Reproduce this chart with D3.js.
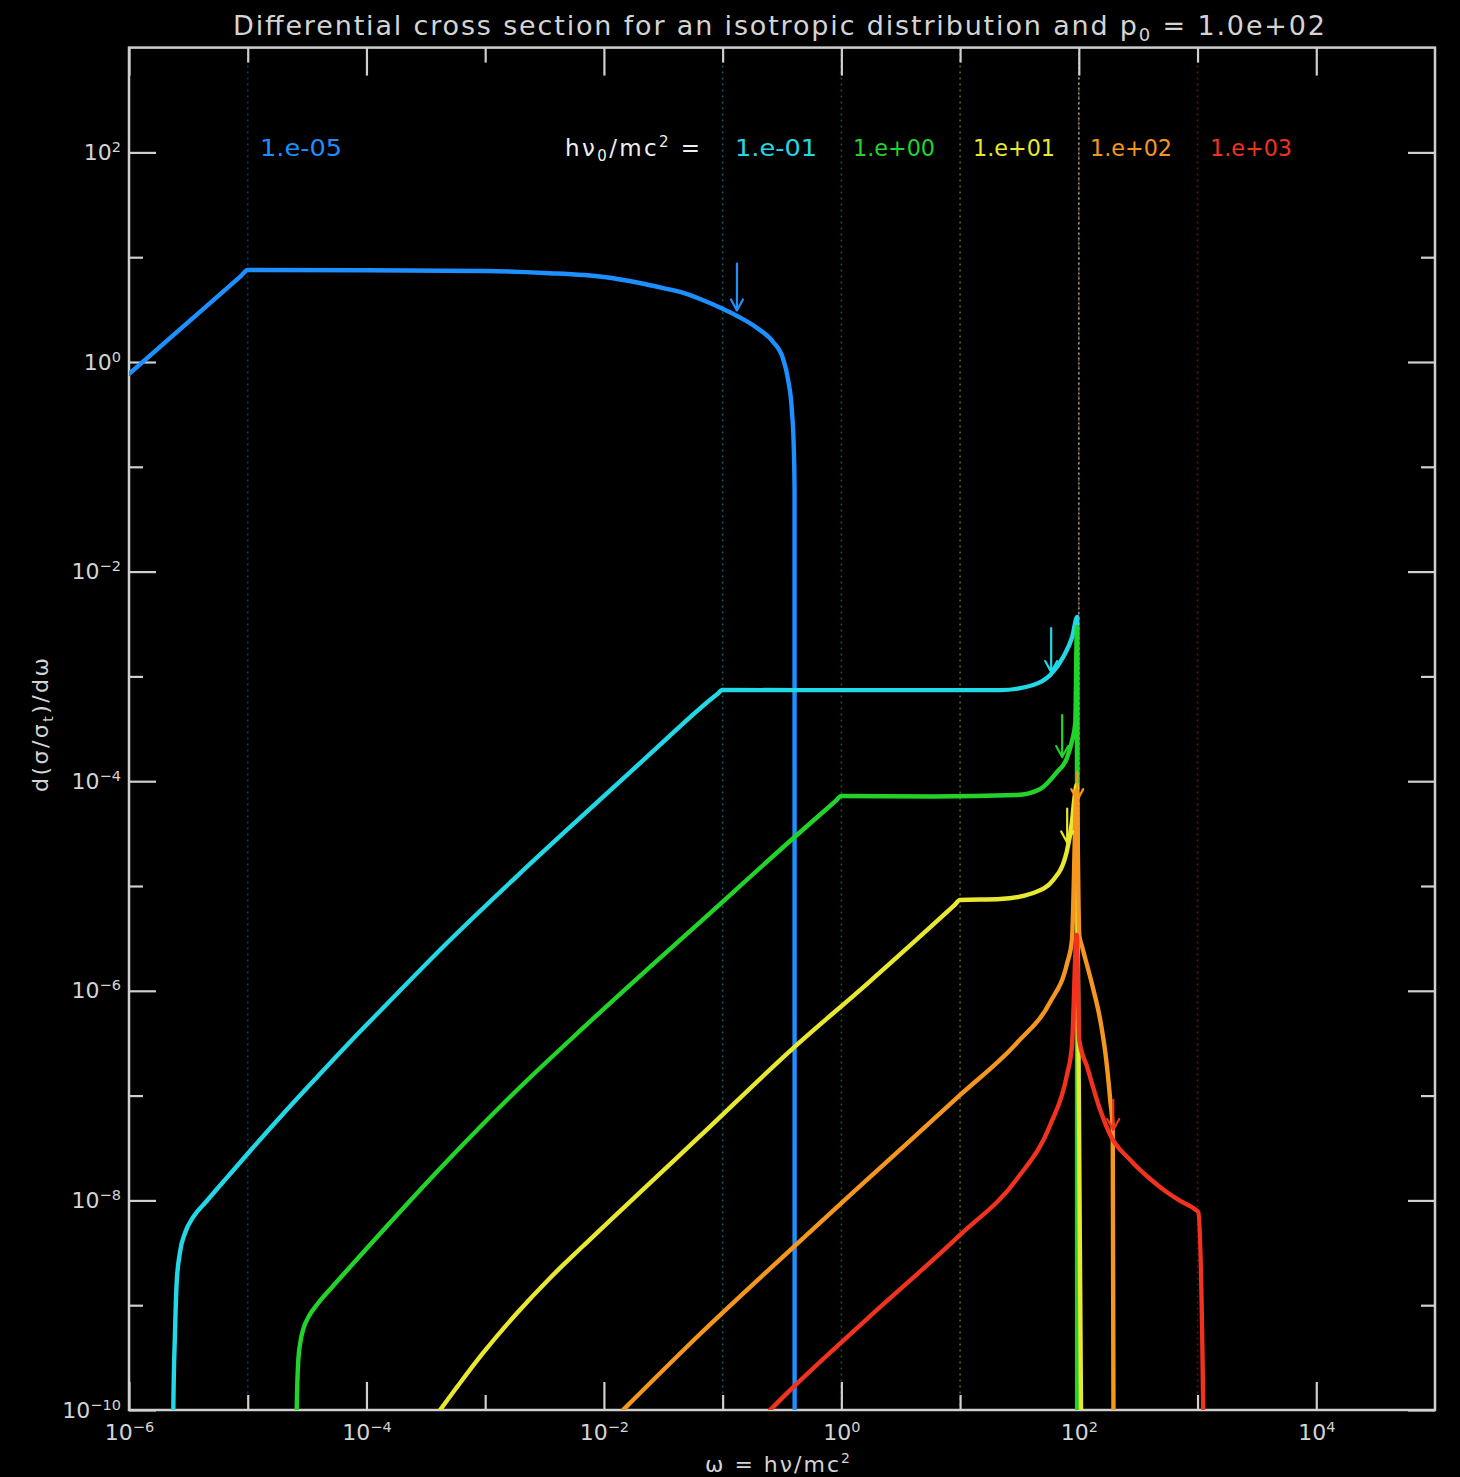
<!DOCTYPE html>
<html>
<head>
<meta charset="utf-8">
<script src="https://cdn.jsdelivr.net/npm/d3@7"></script>
<style>
  html, body { margin: 0; padding: 0; background: #000; }
  svg { display: block; }
  text { font-family: "DejaVu Sans", "Liberation Sans", sans-serif; }
</style>
</head>
<body>
<svg id="chart" width="1460" height="1477"></svg>
<script>
// ---------------------------------------------------------------------------
// Compton spectrum of an isotropic photon field scattered by electrons, p0 = 100
// ---------------------------------------------------------------------------

// incident photon energies hν0/mc² (one curve each)
const eps0Values = [1e-5, 1e-1, 1e0, 1e1, 1e2, 1e3];
const eps0Labels = ["1.e-05", "1.e-01", "1.e+00", "1.e+01", "1.e+02", "1.e+03"];
const electronMomentum = 100;   // p0

// axis ticks (decades)
const xMajorTicks = [1e-6, 1e-4, 1e-2, 1e0, 1e2, 1e4];
const xMinorTicks = [1e-5, 1e-3, 1e-1, 1e1, 1e3];
const yMajorTicks = [1e-10, 1e-8, 1e-6, 1e-4, 1e-2, 1e0, 1e2];
const yMinorTicks = [1e-9, 1e-7, 1e-5, 1e-3, 1e-1, 1e1];

// d(σ/σT)/dω versus ω = hν/mc², one array per incident energy
const spectrum_1em05 = [
  [1.0e-6, 0.77], [0.88e-5, 6.64], [1.0e-5, 7.55], [1.0e-4, 7.5], [1.0e-3, 7.38],
  [3.16e-3, 7.07], [1.0e-2, 6.47], [2.0e-2, 5.67], [3.16e-2, 5.08], [0.0439, 4.66],
  [0.0646, 3.99], [0.101, 3.20], [0.1325, 2.75], [0.1953, 2.11], [0.2663, 1.552],
  [0.3234, 1.068], [0.3562, 0.673], [0.3828, 0.348], [0.398, 0.1446], [0.4034, 0.0601],
  [0.4041, 1e-11]
];
const spectrum_1em01 = [
  [2.349e-6, 5.2e-11], [2.362e-6, 1e-10], [2.44e-6, 5.43e-10], [2.52e-6, 1.63e-9],
  [2.69e-6, 3.22e-9], [2.964e-6, 4.89e-9], [3.48e-6, 6.95e-9], [4.514e-6, 9.87e-9],
  [6.65e-6, 1.64e-8], [1.046e-5, 2.96e-8], [1.983e-5, 6.67e-8], [3.836e-5, 1.50e-7],
  [7.27e-5, 3.25e-7], [1.379e-4, 6.85e-7], [5.06e-4, 3.05e-6], [1.857e-3, 1.245e-5],
  [6.68e-3, 4.75e-5], [2.45e-2, 1.82e-4], [8.93e-2, 6.72e-4], [0.1, 7.41e-4],
  [0.457, 7.4e-4], [3.13, 7.4e-4], [21.8, 7.4e-4], [41.3, 8.28e-4], [57.4, 1.03e-3],
  [73.9, 1.53e-3], [88.0, 2.38e-3], [97.0, 3.69e-3], [97.5, 1e-11]
];
const spectrum_1ep00 = [
  [2.576e-5, 5.2e-11], [2.586e-5, 1e-10], [2.668e-5, 3.0e-10], [2.785e-5, 4.55e-10],
  [2.939e-5, 5.93e-10], [3.283e-5, 7.89e-10], [3.814e-5, 1.005e-9], [5.23e-5, 1.525e-9],
  [7.27e-5, 2.31e-9], [1.389e-4, 5.22e-9], [5.06e-4, 2.54e-8], [1.857e-3, 1.13e-7],
  [6.68e-3, 4.42e-7], [2.45e-2, 1.69e-6], [6.46e-2, 4.53e-6], [0.395, 2.87e-5],
  [0.887, 6.41e-5], [1.0, 7.22e-5], [5.93, 7.15e-5], [30.1, 7.38e-5], [47.3, 8.43e-5],
  [65.4, 1.22e-4], [79.4, 1.66e-4], [88.0, 2.47e-4], [93.3, 3.59e-4], [96.4, 2.96e-3],
  [96.9, 1e-11]
];
const spectrum_1ep01 = [
  [4.17e-4, 1e-10], [6.14e-4, 1.81e-10], [9.60e-4, 3.50e-10],
  [1.857e-3, 8.43e-10], [3.52e-3, 1.82e-9], [6.68e-3, 3.67e-9], [2.45e-2, 1.47e-8],
  [6.46e-2, 4.12e-8], [0.393, 2.84e-7], [1.64, 1.16e-6], [8.92, 6.53e-6], [10.0, 7.35e-6],
  [21.8, 7.51e-6], [41.3, 8.57e-6], [60.8, 1.14e-5], [79.4, 2.16e-5], [87.5, 4.08e-5],
  [91.5, 6.62e-5], [96.0, 9.2e-5], [105.8, 1e-11]
];
const spectrum_1ep02 = [
  [1.451e-2, 1e-10], [6.46e-2, 5.31e-10], [0.395, 3.59e-9], [1.64, 1.57e-8],
  [10.02, 1.014e-7], [30.1, 3.18e-7], [57.4, 7.82e-7], [79.4, 1.80e-6], [87.5, 3.05e-6],
  [96.0, 8.24e-5], [100.8, 3.41e-6], [106.8, 2.62e-6], [129.7, 1.135e-6],
  [151.5, 5.26e-7], [170.2, 2.19e-7], [183.9, 9.08e-8], [193.1, 4.70e-8], [196.8, 1e-11]
];
const spectrum_1ep03 = [
  [0.2512, 1e-10], [0.395, 1.66e-10], [1.64, 7.38e-10], [10.0, 4.68e-9],
  [30.1, 1.60e-8], [57.4, 5.24e-8], [79.4, 1.57e-7], [87.5, 2.97e-7], [96.0, 3.41e-6],
  [100.8, 3.40e-7], [117.7, 1.87e-7], [151.5, 7.29e-8], [183.9, 4.21e-8], [271, 2.43e-8],
  [399.5, 1.60e-8], [534.6, 1.23e-8], [715, 9.87e-9], [956.4, 8.19e-9], [1014, 7.74e-9],
  [1117, 1e-10], [1139, 1e-11]
];
const spectra = [spectrum_1em05, spectrum_1em01, spectrum_1ep00,
                 spectrum_1ep01, spectrum_1ep02, spectrum_1ep03];

// markers (arrows) on each curve: energy and the value at the arrow tip
const markerOmega = [0.132, 58.5, 72.4, 79.8, 97.0, 195];
const markerValue = [3.1, 1.1e-3, 1.7e-4, 2.6e-5, 6.6e-5, 4.7e-8];

// ---------------------------------------------------------------------------
// styling / layout
// ---------------------------------------------------------------------------
const seriesColors = ["#1e8fff", "#22d8e6", "#22d42a", "#e8e830", "#f5961e", "#f0321e"];
const markerLengths = [47, 44, 42, 34, 28, 30];
const legendX = [260, 735, 853, 973, 1090, 1210];
const axisColor = "#cfcfcf";
const textColor = "#d4d4d4";

const W = 1460, H = 1477;
const plot = { left: 129, right: 1435, top: 47.6, bottom: 1410 };

const x = d3.scaleLog().domain([1e-6, 1e5]).range([plot.left, plot.right]);
const y = d3.scaleLog().domain([1e-10, 1e3]).range([plot.bottom, plot.top]);

const svg = d3.select("#chart");
svg.append("rect").attr("width", W).attr("height", H).attr("fill", "#000");

svg.append("defs").append("clipPath").attr("id", "plot-clip")
  .append("rect")
  .attr("x", plot.left).attr("y", plot.top)
  .attr("width", plot.right - plot.left).attr("height", plot.bottom - plot.top);

// ---------------------------------------------------------------------------
// dotted guide lines at each incident energy and at p0
// ---------------------------------------------------------------------------
const guides = svg.append("g").attr("clip-path", "url(#plot-clip)");
guides.selectAll("line.eps")
  .data(eps0Values)
  .join("line")
  .attr("class", "eps")
  .attr("x1", d => x(d)).attr("x2", d => x(d))
  .attr("y1", plot.top).attr("y2", plot.bottom)
  .attr("stroke", (d, i) => seriesColors[i])
  .attr("stroke-opacity", 0.42)
  .attr("stroke-width", 1.6)
  .attr("stroke-dasharray", "2,4");
guides.append("line")
  .attr("x1", x(electronMomentum)).attr("x2", x(electronMomentum))
  .attr("y1", plot.top).attr("y2", plot.bottom)
  .attr("stroke", "#b8b8b8")
  .attr("stroke-opacity", 0.8)
  .attr("stroke-width", 1.6)
  .attr("stroke-dasharray", "2,3");

// ---------------------------------------------------------------------------
// axes
// ---------------------------------------------------------------------------
function powerLabels(g) {
  g.selectAll(".tick text").each(function (d) {
    const t = d3.select(this);
    const e = Math.round(Math.log10(d));
    t.text(null);
    t.append("tspan").text("10");
    t.append("tspan").attr("dy", "-0.55em").attr("font-size", "0.66em")
      .text(e < 0 ? "\u2212" + (-e) : String(e));
  });
}
function axisStyle(g) {
  g.attr("color", axisColor).attr("font-size", 22)
    .attr("font-family", "'DejaVu Sans', sans-serif");
  g.select(".domain").remove();
  g.selectAll(".tick line").attr("stroke-width", 2.2);
  g.selectAll(".tick text").attr("fill", textColor);
}

// bottom
svg.append("g").attr("transform", `translate(0,${plot.bottom})`)
  .call(d3.axisBottom(x).tickValues(xMajorTicks).tickSize(-28).tickPadding(14))
  .call(axisStyle).call(powerLabels);
svg.append("g").attr("transform", `translate(0,${plot.bottom})`)
  .call(d3.axisBottom(x).tickValues(xMinorTicks).tickSize(-15).tickFormat(""))
  .call(axisStyle);
// top
svg.append("g").attr("transform", `translate(0,${plot.top})`)
  .call(d3.axisTop(x).tickValues(xMajorTicks).tickSize(-28).tickFormat(""))
  .call(axisStyle);
svg.append("g").attr("transform", `translate(0,${plot.top})`)
  .call(d3.axisTop(x).tickValues(xMinorTicks).tickSize(-15).tickFormat(""))
  .call(axisStyle);
// left
svg.append("g").attr("transform", `translate(${plot.left},0)`)
  .call(d3.axisLeft(y).tickValues(yMajorTicks).tickSize(-27).tickPadding(8))
  .call(axisStyle).call(powerLabels);
svg.append("g").attr("transform", `translate(${plot.left},0)`)
  .call(d3.axisLeft(y).tickValues(yMinorTicks).tickSize(-14).tickFormat(""))
  .call(axisStyle);
// right
svg.append("g").attr("transform", `translate(${plot.right},0)`)
  .call(d3.axisRight(y).tickValues(yMajorTicks).tickSize(-27).tickFormat(""))
  .call(axisStyle);
svg.append("g").attr("transform", `translate(${plot.right},0)`)
  .call(d3.axisRight(y).tickValues(yMinorTicks).tickSize(-14).tickFormat(""))
  .call(axisStyle);

// frame
svg.append("rect")
  .attr("x", plot.left).attr("y", plot.top)
  .attr("width", plot.right - plot.left).attr("height", plot.bottom - plot.top)
  .attr("fill", "none").attr("stroke", axisColor).attr("stroke-width", 2.5);

// ---------------------------------------------------------------------------
// spectra
// ---------------------------------------------------------------------------
const line = d3.line()
  .x(d => x(d[0])).y(d => y(d[1]))
  .curve(d3.curveMonotoneX);
const curves = svg.append("g").attr("clip-path", "url(#plot-clip)");
curves.selectAll("path.spectrum")
  .data(spectra)
  .join("path")
  .attr("class", "spectrum")
  .attr("d", line)
  .attr("fill", "none")
  .attr("stroke", (d, i) => seriesColors[i])
  .attr("stroke-width", 4.4)
  .attr("stroke-linejoin", "round")
  .attr("stroke-linecap", "round");

// arrows marking a characteristic energy on each curve
curves.selectAll("path.marker")
  .data(markerOmega)
  .join("path")
  .attr("class", "marker")
  .attr("d", (d, i) => {
    const px = x(d), tip = y(markerValue[i]), len = markerLengths[i];
    return `M${px},${tip - len}L${px},${tip}M${px - 6},${tip - 11}L${px},${tip}L${px + 6},${tip - 11}`;
  })
  .attr("fill", "none")
  .attr("stroke", (d, i) => seriesColors[i])
  .attr("stroke-width", 2.2)
  .attr("stroke-linecap", "round")
  .attr("stroke-linejoin", "round");

// ---------------------------------------------------------------------------
// legend labels
// ---------------------------------------------------------------------------
svg.selectAll("text.eps-label")
  .data(eps0Labels)
  .join("text")
  .attr("class", "eps-label")
  .attr("x", (d, i) => legendX[i])
  .attr("y", 156)
  .attr("font-size", 23)
  .attr("textLength", 82)
  .attr("lengthAdjust", "spacingAndGlyphs")
  .attr("fill", (d, i) => seriesColors[i])
  .text(d => d);

const eqLabel = svg.append("text")
  .attr("x", 565).attr("y", 156).attr("font-size", 23).attr("fill", "#efefef")
  .attr("textLength", 135).attr("lengthAdjust", "spacing");
eqLabel.append("tspan").text("h\u03bd");
eqLabel.append("tspan").attr("dy", 5).attr("font-size", 15).text("0");
eqLabel.append("tspan").attr("dy", -5).text("/mc");
eqLabel.append("tspan").attr("dy", -9).attr("font-size", 15).text("2");
eqLabel.append("tspan").attr("dy", 9).text("  =");

// ---------------------------------------------------------------------------
// title and axis titles
// ---------------------------------------------------------------------------
const title = svg.append("text")
  .attr("x", 233).attr("y", 35).attr("font-size", 27).attr("fill", textColor)
  .attr("textLength", 1092).attr("lengthAdjust", "spacing");
title.append("tspan").text("Differential cross section for an isotropic distribution and p");
title.append("tspan").attr("dy", 6).attr("font-size", 18).text("0");
title.append("tspan").attr("dy", -6).text(" = 1.0e+02");

const xTitle = svg.append("text")
  .attr("x", 705).attr("y", 1472).attr("font-size", 22).attr("fill", textColor)
  .attr("textLength", 145).attr("lengthAdjust", "spacing");
xTitle.append("tspan").text("\u03c9 = h\u03bd/mc");
xTitle.append("tspan").attr("dy", -9).attr("font-size", 14).text("2");

const yTitle = svg.append("text")
  .attr("transform", "translate(48,725) rotate(-90)")
  .attr("text-anchor", "middle")
  .attr("font-size", 22).attr("fill", textColor)
  .attr("textLength", 134).attr("lengthAdjust", "spacing");
yTitle.append("tspan").text("d(\u03c3/\u03c3");
yTitle.append("tspan").attr("dy", 5).attr("font-size", 14).text("t");
yTitle.append("tspan").attr("dy", -5).text(")/d\u03c9");
</script>
</body>
</html>
